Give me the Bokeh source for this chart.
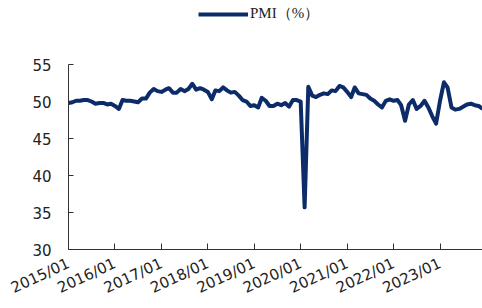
import pandas as pd
from bokeh.plotting import figure
from bokeh.models import FixedTicker, DatetimeTickFormatter, Range1d, Legend, LegendItem, ColumnDataSource
from bokeh.embed import file_html
from bokeh.resources import INLINE
import math

start_month = "2015-01"
pmi = [
    49.8, 49.9, 50.1, 50.1, 50.2, 50.2, 50.0, 49.7, 49.8, 49.8, 49.6, 49.7,
    49.4, 49.0, 50.2, 50.1, 50.1, 50.0, 49.9, 50.4, 50.4, 51.2, 51.7, 51.4,
    51.3, 51.6, 51.8, 51.2, 51.2, 51.7, 51.4, 51.7, 52.4, 51.6, 51.8, 51.6,
    51.3, 50.3, 51.5, 51.4, 51.9, 51.5, 51.2, 51.3, 50.8, 50.2, 50.0, 49.4,
    49.5, 49.2, 50.5, 50.1, 49.4, 49.4, 49.7, 49.5, 49.8, 49.3, 50.2, 50.2,
    50.0, 35.7, 52.0, 50.8, 50.6, 50.9, 51.1, 51.0, 51.5, 51.4, 52.1, 51.9,
    51.3, 50.6, 51.9, 51.1, 51.0, 50.9, 50.4, 50.1, 49.6, 49.2, 50.1, 50.3,
    50.1, 50.2, 49.5, 47.4, 49.6, 50.2, 49.0, 49.4, 50.1, 49.2, 48.0, 47.0,
    50.1, 52.6, 51.9, 49.2, 48.9, 49.0, 49.3, 49.6, 49.7, 49.5, 49.4, 49.0,
]
years = list(range(2015, 2024))
y_ticks = [30, 35, 40, 45, 50, 55]
series_name = "PMI（%）"

dates = pd.date_range(start_month, periods=len(pmi), freq="MS")
src = ColumnDataSource(dict(x=dates, y=pmi))

COLOR = "#0c2b69"
TXT = "#222222"

p = figure(width=482, height=308, output_backend="svg", toolbar_location=None,
           x_axis_type="datetime",
           x_range=Range1d(dates[0], dates[-1]),
           y_range=Range1d(30, 63.65),
           min_border_top=0, min_border_right=0, min_border_left=68, min_border_bottom=59)
p.outline_line_color = None
p.xgrid.visible = False
p.ygrid.visible = False

r = p.line("x", "y", source=src, line_color=COLOR, line_width=4, line_join="round")

# axes
p.yaxis.ticker = FixedTicker(ticks=y_ticks)
p.yaxis.bounds = (30, 55)
p.yaxis.major_tick_in = 5
p.yaxis.major_tick_out = 0
p.yaxis.minor_tick_line_color = None
p.yaxis.major_label_standoff = 17
p.yaxis.major_label_text_font = "DejaVu Sans"
p.yaxis.major_label_text_font_size = "15px"
p.yaxis.major_label_text_color = TXT
p.yaxis.axis_line_color = "#333333"
p.yaxis.major_tick_line_color = "#333333"

tick_ms = [pd.Timestamp(f"{y}-01-01").value / 1e6 for y in years]
p.xaxis.ticker = FixedTicker(ticks=tick_ms)
p.xaxis.formatter = DatetimeTickFormatter(years="%Y/%m", months="%Y/%m", days="%Y/%m",
                                          hours="%Y/%m", minutes="%Y/%m", seconds="%Y/%m",
                                          milliseconds="%Y/%m", microseconds="%Y/%m")
p.xaxis.major_tick_in = 6
p.xaxis.major_tick_out = 0
p.xaxis.minor_tick_line_color = None
p.xaxis.major_label_orientation = math.radians(25)
p.xaxis.major_label_standoff = 13
p.xaxis.major_label_text_font = "DejaVu Sans"
p.xaxis.major_label_text_font_size = "15px"
p.xaxis.major_label_text_color = TXT
p.xaxis.axis_line_color = "#333333"
p.xaxis.major_tick_line_color = "#333333"

legend = Legend(items=[LegendItem(label=series_name, renderers=[r])],
                location=(130, 226), orientation="horizontal",
                border_line_color=None, background_fill_alpha=0,
                padding=0, margin=0, glyph_width=50, glyph_height=16,
                label_standoff=2, label_text_font="Liberation Serif",
                label_text_font_size="15px", label_text_color=TXT)
p.add_layout(legend, "center")

open("out.html", "w").write(file_html(p, INLINE))
